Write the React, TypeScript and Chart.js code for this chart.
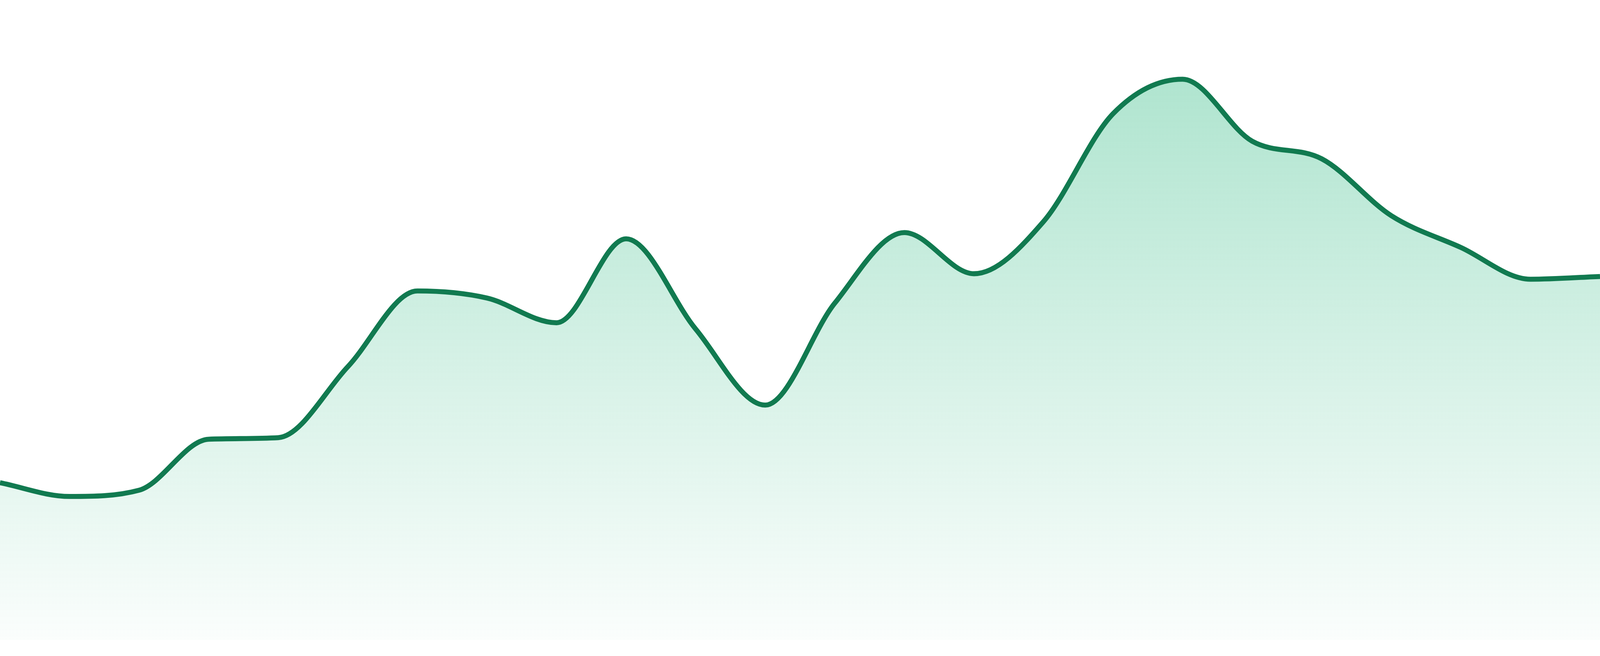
import React, { useRef, useEffect } from 'react';
import { Chart, registerables } from 'chart.js';

Chart.register(...registerables);

// Datos del gráfico (24 puntos, sin ejes visibles)
const labels = [
    '1', '2', '3', '4', '5', '6', '7', '8', '9', '10', '11', '12',
    '13', '14', '15', '16', '17', '18', '19', '20', '21', '22', '23', '24',
];
const values = [
    40.1, 36.6, 38.2, 51.2, 51.6, 69.7, 89.0, 87.2, 80.9, 102.3, 79.3, 59.9,
    85.9, 103.9, 93.4, 106.7, 134.2, 143.0, 127.2, 122.7, 108.2, 100.1, 92.0, 92.7,
];
const yMin = 0;
const yMax = 163.2;

const lineColor = '#117a50';

const App: React.FC = () => {
    const chartRef = useRef<HTMLCanvasElement>(null);
    const chartInstanceRef = useRef<Chart | null>(null);

    useEffect(() => {
        document.body.style.margin = '0';
        if (!chartRef.current) return;
        const ctx = chartRef.current.getContext('2d');
        if (!ctx) return;

        if (chartInstanceRef.current) {
            chartInstanceRef.current.destroy();
        }

        // la ventana puede no medir 4800 px CSS: escalar grosor y margen
        const k = window.innerWidth / 4800;

        chartInstanceRef.current = new Chart(ctx, {
            type: 'line',
            data: {
                labels: labels,
                datasets: [{
                    data: values,
                    borderColor: lineColor,
                    borderWidth: 15 * k,
                    pointRadius: 0,
                    cubicInterpolationMode: 'monotone',
                    fill: 'start',
                    backgroundColor: (context: any) => {
                        const area = context.chart.chartArea;
                        if (!area) return 'rgba(30, 180, 120, 0.2)';
                        const g = context.chart.ctx.createLinearGradient(0, area.top, 0, area.bottom);
                        g.addColorStop(0, 'rgba(30, 180, 120, 0.40)');
                        g.addColorStop(1, 'rgba(30, 180, 120, 0.02)');
                        return g;
                    },
                }]
            },
            options: {
                responsive: true,
                maintainAspectRatio: false,
                animation: false,
                layout: { padding: { top: 0, right: 0, bottom: 48 * k, left: 0 } },
                scales: {
                    x: { display: false, offset: false },
                    y: { display: false, min: yMin, max: yMax },
                },
                plugins: {
                    legend: { display: false },
                    tooltip: { enabled: false },
                },
            }
        });

        return () => {
            if (chartInstanceRef.current) {
                chartInstanceRef.current.destroy();
                chartInstanceRef.current = null;
            }
        };
    }, []);

    return (
        <div style={{ position: 'fixed', left: 0, top: 0, width: '100vw', height: '100vh', background: '#ffffff' }}>
            <canvas ref={chartRef}></canvas>
        </div>
    );
};

export default App;
